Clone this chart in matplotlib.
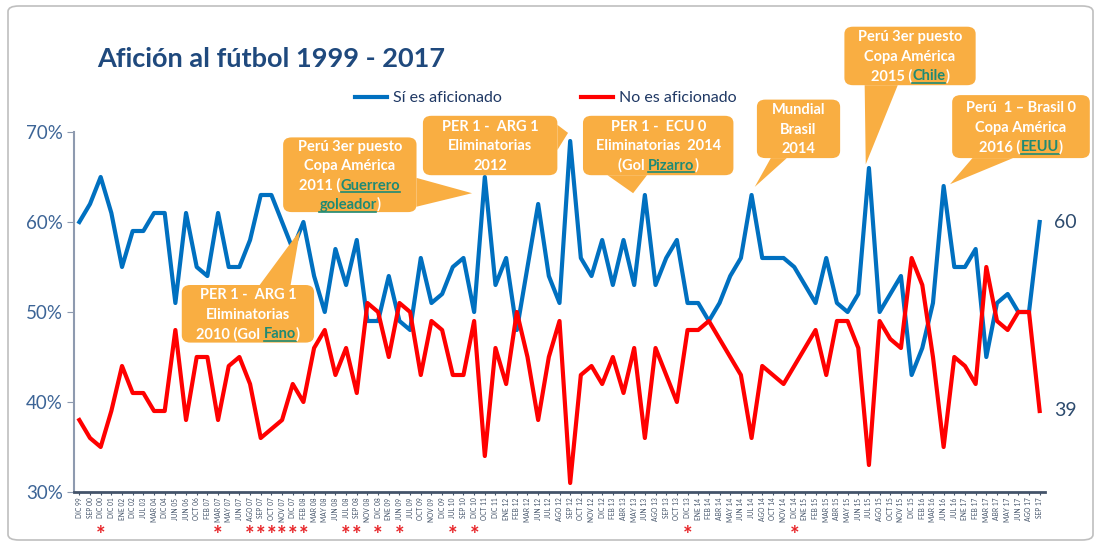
import matplotlib
matplotlib.use('Agg')
import matplotlib.pyplot as plt
import matplotlib.transforms as mtransforms
from matplotlib.patches import FancyBboxPatch, Polygon

FUENTE = ['Lato', 'DejaVu Sans']
plt.rcParams['font.family'] = FUENTE

# --- DATOS ---
meses = ['DIC 99', 'SEP 00', 'DIC 00', 'DIC 01', 'ENE 02', 'DIC 02', 'JUL 03', 'MAR 04', 'DIC 04', 'JUN 05',
         'JUN 06', 'OCT 06', 'FEB 07', 'MAR 07', 'MAY 07', 'JUN 07', 'AGO 07', 'SEP 07', 'OCT 07', 'NOV 07',
         'DIC 07', 'FEB 08', 'MAR 08', 'MAY 08', 'JUN 08', 'JUL 08', 'SEP 08', 'NOV 08', 'DIC 08', 'ENE 09',
         'JUN 09', 'JUL 09', 'OCT 09', 'NOV 09', 'DIC 09', 'JUL 10', 'SEP 10', 'DIC 10', 'OCT 11', 'DIC 11',
         'ENE 12', 'FEB 12', 'MAR 12', 'JUN 12', 'JUL 12', 'AGO 12', 'SEP 12', 'OCT 12', 'NOV 12', 'DIC 12',
         'FEB 13', 'ABR 13', 'MAY 13', 'JUN 13', 'AGO 13', 'SEP 13', 'OCT 13', 'DIC 13', 'ENE 14', 'FEB 14',
         'ABR 14', 'MAY 14', 'JUN 14', 'JUL 14', 'AGO 14', 'OCT 14', 'NOV 14', 'DIC 14', 'ENE 15', 'FEB 15',
         'MAR 15', 'ABR 15', 'MAY 15', 'JUN 15', 'JUL 15', 'AGO 15', 'OCT 15', 'NOV 15', 'DIC 15', 'FEB 16',
         'MAR 16', 'JUN 16', 'JUL 16', 'ENE 17', 'FEB 17', 'MAR 17', 'ABR 17', 'MAY 17', 'JUN 17', 'AGO 17',
         'SEP 17']

si_aficionado = [60, 62, 65, 61, 55, 59, 59, 61, 61, 51,
                 61, 55, 54, 61, 55, 55, 58, 63, 63, 60,
                 57, 60, 54, 50, 57, 53, 58, 49, 49, 54,
                 49, 48, 56, 51, 52, 55, 56, 50, 65, 53,
                 56, 48, 55, 62, 54, 51, 69, 56, 54, 58,
                 53, 58, 53, 63, 53, 56, 58, 51, 51, 49,
                 51, 54, 56, 63, 56, 56, 56, 55, 53, 51,
                 56, 51, 50, 52, 66, 50, 52, 54, 43, 46,
                 51, 64, 55, 55, 57, 45, 51, 52, 50, 50,
                 60]

no_aficionado = [38, 36, 35, 39, 44, 41, 41, 39, 39, 48,
                 38, 45, 45, 38, 44, 45, 42, 36, 37, 38,
                 42, 40, 46, 48, 43, 46, 41, 51, 50, 45,
                 51, 50, 43, 49, 48, 43, 43, 49, 34, 46,
                 42, 50, 45, 38, 45, 49, 31, 43, 44, 42,
                 45, 41, 46, 36, 46, 43, 40, 48, 48, 49,
                 47, 45, 43, 36, 44, 43, 42, 44, 46, 48,
                 43, 49, 49, 46, 33, 49, 47, 46, 56, 53,
                 45, 35, 45, 44, 42, 55, 49, 48, 50, 50,
                 39]

# meses marcados con asterisco bajo el eje
meses_asterisco = ['DIC 00', 'MAR 07', 'AGO 07', 'SEP 07', 'OCT 07', 'NOV 07', 'DIC 07', 'FEB 08',
                   'JUL 08', 'SEP 08', 'DIC 08', 'JUN 09', 'JUL 10', 'DIC 10', 'DIC 13', 'DIC 14']

# --- ESTILO ---
AZUL = '#0070C0'
ROJO = '#FF0000'
NARANJA = '#F9AE42'
VERDE = '#1F8A74'
BLANCO = 'white'
TXT = '#1F3864'

fig = plt.figure(figsize=(11.01, 5.46), dpi=100)
ax = fig.add_axes([74 / 1101, 54 / 546, 971 / 1101, 360 / 546])

x = list(range(len(meses)))
ax.plot(x, si_aficionado, color=AZUL, lw=3, label='Sí es aficionado', zorder=3)
ax.plot(x, no_aficionado, color=ROJO, lw=3, label='No es aficionado', zorder=4)

ax.set_xlim(-0.5, len(meses) - 0.5)
ax.set_ylim(30, 70)
ax.set_yticks([30, 40, 50, 60, 70])
ax.set_yticklabels([f'{v}%' for v in [30, 40, 50, 60, 70]])
ax.set_xticks(x)
ax.set_xticklabels(meses, rotation=90, fontsize=4.8, color='#44546A')

for lado in ['top', 'right']:
    ax.spines[lado].set_visible(False)
ax.spines['left'].set_color('#8E9AAF')
ax.spines['left'].set_linewidth(1.5)
ax.spines['bottom'].set_color('#44546A')
ax.spines['bottom'].set_linewidth(2)
ax.tick_params(axis='y', length=5, color='#8E9AAF', labelcolor='#3C6496', labelsize=13.5, pad=3)
ax.tick_params(axis='x', length=2, color='#44546A', pad=2)

# etiquetas del ultimo valor
ax.annotate(str(si_aficionado[-1]), xy=(x[-1], si_aficionado[-1]), xytext=(14, 0),
            textcoords='offset pixels', va='center', ha='left', fontsize=14, color='#2D4B6E')
ax.annotate(str(no_aficionado[-1]), xy=(x[-1], no_aficionado[-1]), xytext=(14, 0),
            textcoords='offset pixels', va='center', ha='left', fontsize=14, color='#2D4B6E')

# asteriscos
trans = mtransforms.blended_transform_factory(ax.transData, ax.transAxes)
for m in meses_asterisco:
    ax.text(meses.index(m), -0.12, '*', transform=trans, ha='center', va='center',
            color='#E8262A', fontsize=16, fontweight='bold', clip_on=False)

ax.legend(loc='center', bbox_to_anchor=(0.486, 1.094), ncol=2, frameon=False, fontsize=11.5,
          handlelength=2, handletextpad=0.35, columnspacing=5, labelcolor=TXT)

fig.text(97 / 1101, 1 - 59 / 546, 'Afición al fútbol 1999 - 2017', va='center', ha='left',
         fontsize=19.5, fontweight='bold', color='#1F497D')

# marco exterior
fig.patches.append(FancyBboxPatch((8 / 1101, 6 / 546), 1085 / 1101, 534 / 546,
                                  boxstyle='round,pad=0,rounding_size=0.01', transform=fig.transFigure,
                                  fill=False, ec='#BFBFBF', lw=1.2))

renderer = fig.canvas.get_renderer()


def datos_por_px():
    p0 = ax.transData.transform((0, 0))
    p1 = ax.transData.transform((1, 1))
    return 1 / (p1[0] - p0[0]), 1 / (p1[1] - p0[1])


def ancho(s, tam):
    t = ax.text(0, 0, s, fontsize=tam, fontweight='bold')
    w = t.get_window_extent(renderer=renderer).width
    t.remove()
    return w


def escribir(xc, yb, partes, tam):
    # una linea centrada, con trozos de distinto color (y subrayado)
    if isinstance(partes, str):
        partes = [(partes, BLANCO, False)]
    ux, uy = datos_por_px()
    total = ancho(''.join(p[0] for p in partes), tam)
    inicio = xc - total / 2 * ux
    previo = ''
    for s, color, sub in partes:
        xi = inicio + (ancho(previo + s, tam) - ancho(s, tam)) * ux
        ax.text(xi, yb, s, color=color, fontsize=tam, fontweight='bold', ha='left', va='baseline',
                clip_on=False, zorder=7)
        if sub:
            w = ancho(s, tam)
            ax.plot([xi, xi + w * ux], [yb - 2.5 * uy, yb - 2.5 * uy], color=color, lw=1.2,
                    clip_on=False, zorder=7)
        previo += s


def globo(x0, x1, y0, y1, base, punta, lineas, tam=10.5):
    ax.add_patch(FancyBboxPatch((x0, y0), x1 - x0, y1 - y0, boxstyle='round,pad=0,rounding_size=0.8',
                                fc=NARANJA, ec='none', clip_on=False, zorder=6))
    ax.add_patch(Polygon([base[0], punta, base[1]], closed=True, fc=NARANJA, ec='none',
                         clip_on=False, zorder=6))
    ux, uy = datos_por_px()
    paso = 19.5 * uy
    yc = (y0 + y1) / 2
    n = len(lineas)
    for i, linea in enumerate(lineas):
        yl = yc + (n - 1) / 2 * paso - i * paso
        escribir((x0 + x1) / 2, yl - 5 * uy, linea, tam)


globo(19.1, 31.6, 61.1, 69.4, [(31.6, 64.9), (31.6, 61.7)], (36.8, 63.2),
      ['Perú 3er puesto', 'Copa América',
       [('2011 (', BLANCO, False), ('Guerrero', VERDE, True)],
       [('goleador', VERDE, True), (')', BLANCO, False)]])
globo(32.2, 44.8, 65.2, 71.8, [(44.8, 70.8), (44.8, 68.0)], (45.8, 69.9),
      ['PER 1 -  ARG 1', 'Eliminatorias', '2012'])
globo(47.2, 61.3, 65.2, 71.8, [(49.5, 65.2), (53.2, 65.2)], (51.9, 63.2),
      ['PER 1 -  ECU 0', 'Eliminatorias  2014',
       [('(Gol ', BLANCO, False), ('Pizarro', VERDE, True), (')', BLANCO, False)]])
globo(63.5, 71.3, 67.1, 73.6, [(64.8, 67.1), (66.3, 67.1)], (63.3, 63.9),
      ['Mundial', 'Brasil', '2014'])
globo(71.7, 84.0, 75.2, 81.7, [(73.6, 75.2), (76.7, 75.2)], (73.7, 66.4),
      ['Perú 3er puesto', 'Copa América',
       [('2015 (', BLANCO, False), ('Chile', VERDE, True), (')', BLANCO, False)]])
globo(81.8, 94.7, 67.1, 74.1, [(83.7, 67.1), (87.5, 67.1)], (81.6, 64.2),
      ['Perú  1 – Brasil 0', 'Copa América',
       [('2016 (', BLANCO, False), ('EEUU', VERDE, True), (')', BLANCO, False)]])
globo(9.6, 22.0, 46.6, 53.0, [(16.9, 53.0), (19.8, 53.0)], (20.7, 59.1),
      ['PER 1 -  ARG 1', 'Eliminatorias',
       [('2010 (Gol ', BLANCO, False), ('Fano', VERDE, True), (')', BLANCO, False)]])

fig.savefig('out.png', dpi=100)
